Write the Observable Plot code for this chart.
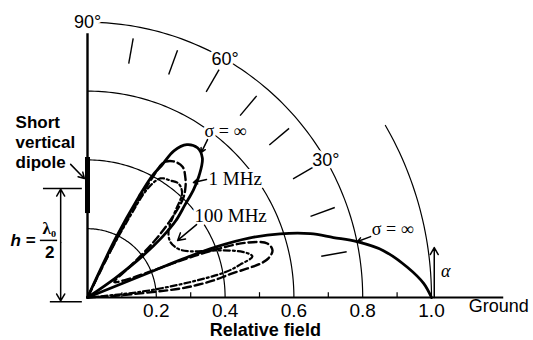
<!DOCTYPE html>
<html><head><meta charset="utf-8">
<script src="https://cdn.jsdelivr.net/npm/d3@7"></script>
<script src="https://cdn.jsdelivr.net/npm/@observablehq/plot@0.6"></script>
<style>body{margin:0;background:#fff}#chart svg{display:block}</style>
</head><body><div id="chart"></div>
<script>
// ---- data (elevation angle in degrees, relative field) ----
const gridRadii = [0.2, 0.4, 0.6, 0.8];
const outerArc = {r: 1.0, maxAngle: 30};
const angleLabels = [30, 60, 90];
const radialTickAngles = [10, 20, 30, 40, 50, 60, 70, 80];
const fieldTicks = [0.2, 0.4, 0.6, 0.8, 1.0];
const minorTicks = [0.1, 0.3, 0.5, 0.7, 0.9];
const dipoleHeightLabel = "h =";

// sigma = infinity (perfect ground)
const perfectUpper = [[65,0],[64.6,0.19],[63,0.33],[62,0.40],[60.7,0.44],[59.5,0.495],[57,0.53],[53.7,0.54],[50.5,0.525],[47.5,0.48],[45.5,0.44],[43.5,0.39],[41,0.34],[39,0.28],[37,0.2],[35,0.1],[33,0]];
const perfectLower = [[22,0],[22,0.2],[22,0.3],[21.5,0.4],[20.2,0.5],[18.3,0.59],[16,0.674],[13.7,0.736],[11.7,0.8],[9,0.871],[5.4,0.934],[2.4,0.978],[0,1.0]];
// 1 MHz (dashed)
const mhz1 = [[0,0],[3.7,0.09],[5.5,0.27],[6.5,0.32],[7.7,0.37],[9.3,0.42],[10.3,0.473],[11.1,0.513],[12.2,0.538],[14.3,0.555],[16.7,0.546],[19,0.49],[20.5,0.4],[21.5,0.3],[22.5,0.2],[25,0.12],[30,0.09],[36,0.15],[40,0.25],[43,0.33],[46,0.4],[48.5,0.43],[50.8,0.45],[54,0.47],[57.7,0.468],[60.6,0.45],[61.5,0.4],[62.5,0.3],[63.5,0.2],[65,0]];
// 100 MHz (dash-dot)
const mhz100 = [[0,0],[6,0.15],[8.5,0.3],[10.5,0.41],[12.2,0.455],[14,0.494],[16.4,0.47],[20,0.4],[24,0.33],[28,0.3],[34,0.29],[39.6,0.306],[44,0.35],[47.9,0.41],[51.4,0.424],[54.6,0.417],[58.5,0.406],[61,0.364],[62.5,0.25],[64,0.12],[66,0]];

// ---- helpers ----
const rad = a => a * Math.PI / 180;
const toXY = ([a, r]) => ({x: r * Math.cos(rad(a)), y: r * Math.sin(rad(a))});
const SANS = "Liberation Sans, Arial, sans-serif";
const SERIF = "Liberation Serif, Times New Roman, serif";

const arcs = [
  ...gridRadii.flatMap(r => d3.range(0, 90.01, 1).map(a => ({r, ...toXY([a, r])}))),
  ...d3.range(0, outerArc.maxAngle + 0.01, 1).map(a => ({r: outerArc.r, ...toXY([a, outerArc.r])}))
];
const radialTicks = radialTickAngles.map(a => {
  const p = toXY([a, 0.69]), q = toXY([a, 0.765]);
  return {x1: p.x, y1: p.y, x2: q.x, y2: q.y};
});
const halo = {stroke: "white", strokeWidth: 6, paintOrder: "stroke", fill: "black"};

const chart = Plot.plot({
  width: 533, height: 340,
  x: {domain: [0, 1], range: [87, 431], axis: null},
  y: {domain: [0, 1], range: [297, -47], axis: null},
  style: {background: "white", fontFamily: SANS},
  marks: [
    // grid arcs
    Plot.line(arcs, {x: "x", y: "y", z: "r", stroke: "black", strokeWidth: 1.2}),
    Plot.link(radialTicks, {x1: "x1", y1: "y1", x2: "x2", y2: "y2", stroke: "black", strokeWidth: 1.4}),
    // ground & minor ticks
    Plot.ruleY([0], {x1: 0, x2: 1.21, stroke: "black", strokeWidth: 2}),
    Plot.ruleX(minorTicks, {y1: 0, y2: 0.014, stroke: "black", strokeWidth: 1.2}),
    // patterns
    Plot.line(perfectLower.map(toXY), {x: "x", y: "y", curve: "catmull-rom", stroke: "black", strokeWidth: 2.8}),
    Plot.line(perfectUpper.map(toXY), {x: "x", y: "y", curve: "catmull-rom", stroke: "black", strokeWidth: 2.8}),
    Plot.line(mhz1.map(toXY), {x: "x", y: "y", curve: "catmull-rom", stroke: "black", strokeWidth: 2.4, strokeDasharray: "8,4"}),
    Plot.line(mhz100.map(toXY), {x: "x", y: "y", curve: "catmull-rom", stroke: "black", strokeWidth: 2.2, strokeDasharray: "6,3,2,3"}),
    // vertical axis and dipole
    Plot.ruleX([0], {y1: 0, y2: 0.767, stroke: "black", strokeWidth: 2.4}),
    Plot.ruleX([0], {y1: 0.244, y2: 0.407, stroke: "black", strokeWidth: 5}),
    // angle labels on the 0.8 arc
    Plot.text(angleLabels, {x: a => 0.8 * Math.cos(rad(a)), y: a => 0.8 * Math.sin(rad(a)), text: a => `${a}°`, fontSize: 18, ...halo}),
    // field tick labels
    Plot.text(fieldTicks, {x: d => d, y: -0.038, text: d => d.toFixed(1), fontSize: 19}),
    Plot.text(["Ground"], {x: 1.108, y: -0.026, text: d => d, textAnchor: "start", fontSize: 18}),
    Plot.text(["Relative field"], {x: 0.517, y: -0.096, text: d => d, fontSize: 18, fontWeight: "bold"}),
    // annotations
    Plot.text(["Short", "vertical", "dipole"], {x: -0.209, y: (d, i) => 0.509 - i * 0.058, text: d => d, textAnchor: "start", fontSize: 17, fontWeight: "bold"}),
    Plot.text(["σ = ∞"], {x: 0.401, y: 0.483, text: d => d, fontFamily: SERIF, fontSize: 18, ...halo}),
    Plot.text(["σ = ∞"], {x: 0.887, y: 0.198, text: d => d, fontFamily: SERIF, fontSize: 18, ...halo}),
    Plot.text(["1 MHz"], {x: 0.352, y: 0.346, text: d => d, textAnchor: "start", fontFamily: SERIF, fontSize: 19, ...halo}),
    Plot.text(["100 MHz"], {x: 0.311, y: 0.238, text: d => d, textAnchor: "start", fontFamily: SERIF, fontSize: 19, ...halo}),
    Plot.text(["α"], {x: 1.041, y: 0.076, text: d => d, fontFamily: SERIF, fontStyle: "italic", fontSize: 18}),
    // arrows
    Plot.arrow([
      {x1: -0.049, y1: 0.387, x2: -0.009, y2: 0.346},
      {x1: 0.349, y1: 0.459, x2: 0.331, y2: 0.422},
      {x1: 0.346, y1: 0.343, x2: 0.308, y2: 0.334},
      {x1: 0.317, y1: 0.212, x2: 0.262, y2: 0.166},
      {x1: 0.823, y1: 0.177, x2: 0.785, y2: 0.163},
      {x1: 1.008, y1: 0.0, x2: 1.008, y2: 0.145},
      {x1: -0.078, y1: 0.16, x2: -0.078, y2: 0.315},
      {x1: -0.078, y1: 0.16, x2: -0.078, y2: -0.01}
    ], {x1: "x1", y1: "y1", x2: "x2", y2: "y2", stroke: "black", strokeWidth: 1.5, headLength: 8}),
    // dimension lines
    Plot.ruleY([0.317], {x1: -0.128, x2: -0.015, stroke: "black", strokeWidth: 1.5}),
    Plot.ruleY([-0.012], {x1: -0.108, x2: -0.015, stroke: "black", strokeWidth: 1.5}),
    Plot.text([dipoleHeightLabel], {x: -0.224, y: 0.166, text: d => d, textAnchor: "start", fontSize: 17, fontWeight: "bold", fontStyle: "italic", ...halo}),
    Plot.text(["λ₀"], {x: -0.111, y: 0.2, text: d => d, fontFamily: SERIF, fontSize: 17, fontWeight: "bold", ...halo}),
    Plot.ruleY([0.166], {x1: -0.137, x2: -0.087, stroke: "black", strokeWidth: 1.5}),
    Plot.text(["2"], {x: -0.11, y: 0.131, text: d => d, fontSize: 17, fontWeight: "bold", ...halo})
  ]
});
document.getElementById("chart").append(chart);
</script>
</body></html>
